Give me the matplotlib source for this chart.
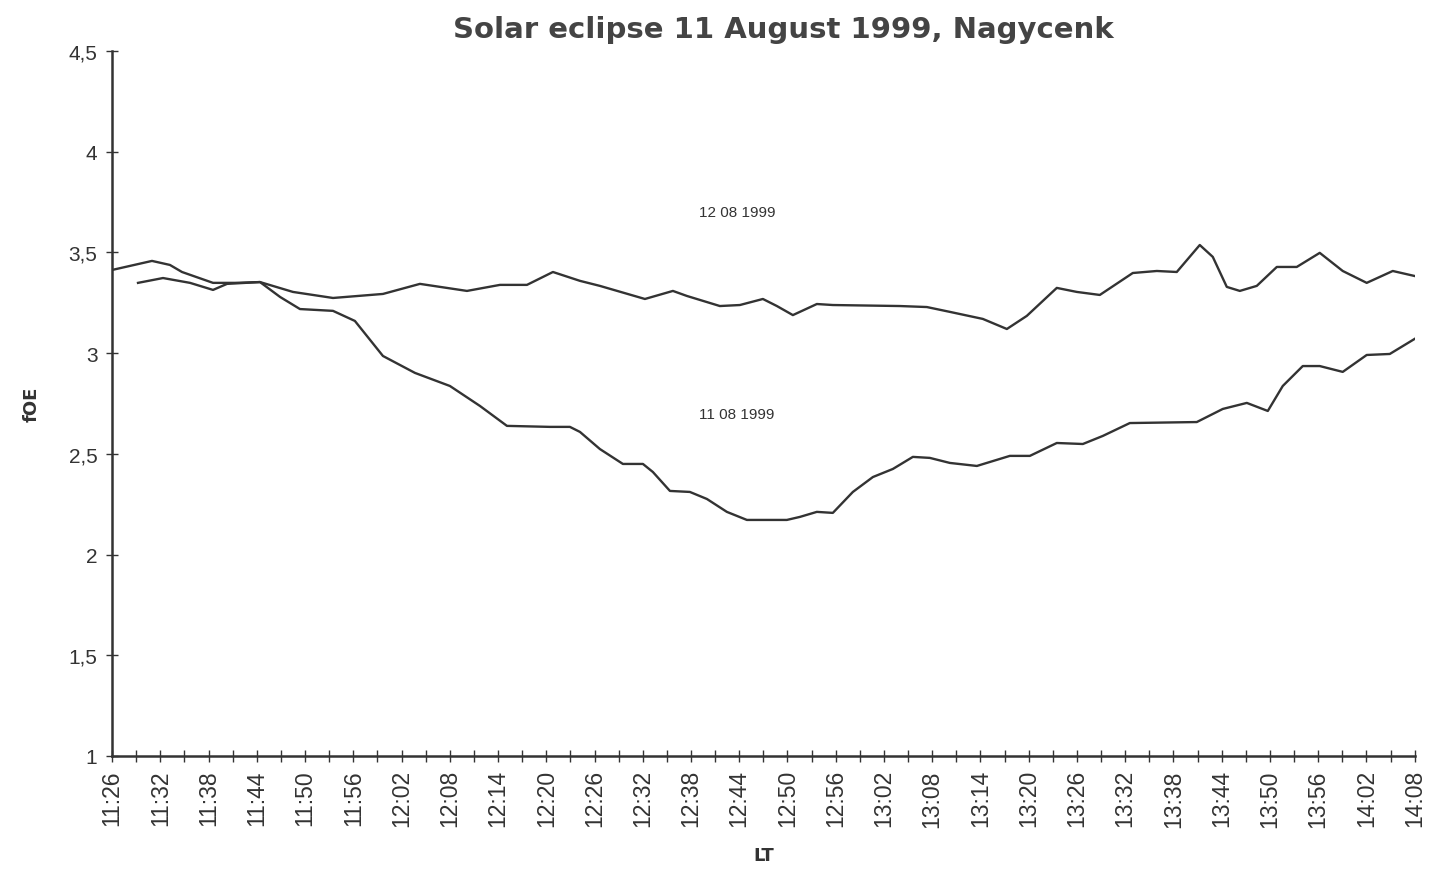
import matplotlib
matplotlib.use('agg')

import matplotlib.pyplot as plt

# minutes after 11:26 local time, and foE in MHz
t_11aug = [0.0, 4.97, 7.2, 8.70, 12.56, 15.3, 18.40, 20.9, 23.37, 27.48, 30.2,
           33.69, 37.67, 42.02, 45.75, 49.11, 54.46, 56.94, 58.19, 60.67,
           63.53, 66.02, 67.26, 69.38, 71.86, 73.98, 76.46, 78.95, 83.92,
           85.54, 87.65, 89.64, 92.13, 94.62, 97.10, 99.59, 101.70, 104.19,
           107.55, 111.65, 114.14, 117.49, 120.73, 123.21, 126.57, 134.90,
           138.13, 141.12, 143.73, 145.59, 148.08, 150.19, 153.05, 156.03,
           158.90, 162.0]
foe_11aug = [3.413, 3.458, 3.438, 3.403, 3.349, 3.349, 3.353, 3.279, 3.219,
             3.210, 3.160, 2.986, 2.902, 2.837, 2.738, 2.639, 2.634, 2.634,
             2.609, 2.524, 2.450, 2.450, 2.410, 2.316, 2.311, 2.276, 2.212,
             2.172, 2.172, 2.187, 2.212, 2.207, 2.311, 2.385, 2.425, 2.485,
             2.480, 2.455, 2.440, 2.490, 2.490, 2.554, 2.549, 2.589, 2.653,
             2.658, 2.723, 2.753, 2.713, 2.837, 2.936, 2.936, 2.907, 2.991,
             2.996, 3.071]

t_12aug = [3.23, 6.34, 9.7, 12.56, 14.30, 18.40, 22.50, 27.48, 33.69, 38.29,
           44.14, 48.24, 51.60, 54.83, 58.19, 60.67, 66.27, 69.75, 71.49,
           75.59, 78.08, 80.94, 82.68, 84.67, 87.65, 89.64, 97.97, 101.33,
           104.19, 108.29, 111.28, 113.76, 117.49, 119.98, 122.84, 126.94,
           129.93, 132.41, 135.27, 136.89, 138.63, 140.25, 142.36, 144.85,
           147.33, 150.19, 153.05, 156.03, 159.27, 162.0]
foe_12aug = [3.349, 3.373, 3.349, 3.314, 3.344, 3.353, 3.304, 3.274, 3.294,
             3.344, 3.309, 3.339, 3.339, 3.403, 3.359, 3.334, 3.269, 3.309,
             3.284, 3.234, 3.239, 3.269, 3.234, 3.189, 3.244, 3.239, 3.234,
             3.229, 3.205, 3.170, 3.120, 3.185, 3.324, 3.304, 3.289, 3.398,
             3.408, 3.403, 3.537, 3.478, 3.329, 3.309, 3.334, 3.428, 3.428,
             3.498, 3.408, 3.349, 3.408, 3.383]

time_labels = ['11:26', '11:32', '11:38', '11:44', '11:50', '11:56', '12:02',
               '12:08', '12:14', '12:20', '12:26', '12:32', '12:38', '12:44',
               '12:50', '12:56', '13:02', '13:08', '13:14', '13:20', '13:26',
               '13:32', '13:38', '13:44', '13:50', '13:56', '14:02', '14:08']
y_ticks = [1, 1.5, 2, 2.5, 3, 3.5, 4, 4.5]
y_labels = ['1', '1,5', '2', '2,5', '3', '3,5', '4', '4,5']

ink = '#333333'
fig = plt.figure(figsize=(14.29, 8.79), dpi=100)
ax = fig.add_axes([0.0784, 0.1388, 0.9116, 0.802])

ax.plot(t_11aug, foe_11aug, color=ink, lw=1.7, solid_joinstyle='round')
ax.plot(t_12aug, foe_12aug, color=ink, lw=1.7, solid_joinstyle='round')

ax.set_xlim(0, 162)
ax.set_ylim(1, 4.5)

# a tick every 3 minutes, labelled every 6
xt = [3 * i for i in range(55)]
xl = []
for i in range(55):
    xl.append(time_labels[i // 2] if i % 2 == 0 else '')
ax.set_xticks(xt)
ax.set_xticklabels(xl, rotation=90, fontsize=16.5, family='Liberation Sans',
                   color=ink)
ax.set_yticks(y_ticks)
ax.set_yticklabels(y_labels, fontsize=15, family='Liberation Sans', color=ink)
ax.tick_params(axis='both', direction='inout', length=9, width=1, color=ink)
ax.tick_params(axis='x', pad=5)
ax.tick_params(axis='y', pad=6)

for side in ('top', 'right'):
    ax.spines[side].set_visible(False)
for side in ('left', 'bottom'):
    ax.spines[side].set_color(ink)
    ax.spines[side].set_linewidth(1.8)

ax.text(77.7, 3.70, '12 08 1999', ha='center', va='center', fontsize=11,
        family='Liberation Sans', color=ink)
ax.text(77.7, 2.70, '11 08 1999', ha='center', va='center', fontsize=11,
        family='Liberation Sans', color=ink)

ax.set_ylabel('fOE', fontsize=13, fontweight='bold', color=ink, labelpad=20)
ax.set_xlabel('LT', fontsize=13, fontweight='bold', color=ink, labelpad=14)
fig.text(0.548, 0.966, 'Solar eclipse 11 August 1999, Nagycenk', ha='center',
         va='center', fontsize=21, fontweight='bold', color='#444444')

fig.savefig('out.png', dpi=100)
